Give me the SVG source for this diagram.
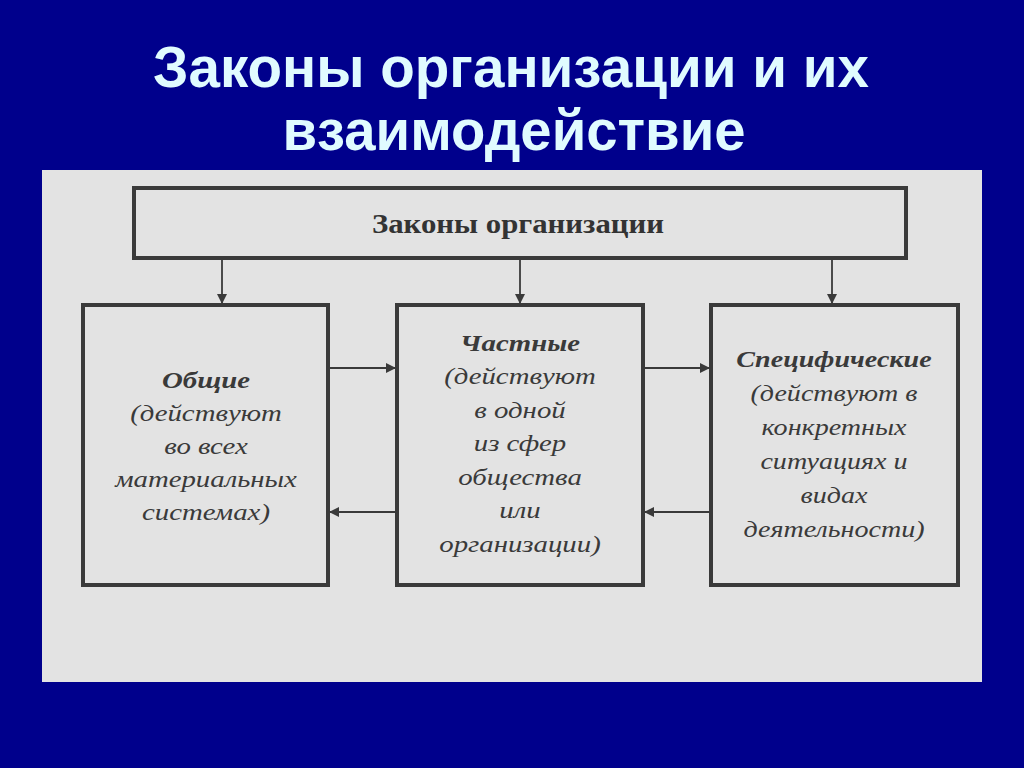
<svg xmlns="http://www.w3.org/2000/svg" width="1024" height="768" viewBox="0 0 1024 768">
<defs>
<style>
.title{font-family:"Liberation Sans",Arial,sans-serif;font-weight:bold;font-size:58px;fill:#e0fbff;text-anchor:middle}
.box{fill:none;stroke:#3a3a3a;stroke-width:4}
.lbl{font-family:"Liberation Serif","Times New Roman",serif;font-style:italic;font-size:24px;fill:#3a3a3a;text-anchor:middle}
.hd{font-weight:bold}
.top{font-family:"Liberation Serif","Times New Roman",serif;font-weight:bold;font-size:28px;fill:#333;text-anchor:middle}
.con{stroke:#3a3a3a;stroke-width:1.8;fill:none}
</style>
<marker id="ah" viewBox="0 0 10 10" refX="9" refY="5" markerWidth="10" markerHeight="10" markerUnits="userSpaceOnUse" orient="auto">
<path d="M0,0 L10,5 L0,10 Z" fill="#3a3a3a"/>
</marker>
</defs>
<rect width="1024" height="768" fill="#00008c"/>
<text class="title" x="511" y="87" textLength="716" lengthAdjust="spacingAndGlyphs">Законы организации и их</text>
<text class="title" x="514" y="150" textLength="463" lengthAdjust="spacingAndGlyphs">взаимодействие</text>
<rect x="42" y="170" width="940" height="512" fill="#e3e3e3"/>
<g id="top">
<rect class="box" x="134" y="188" width="772" height="70"/>
<text class="top" x="518" y="233" textLength="292" lengthAdjust="spacingAndGlyphs">Законы организации</text>
</g>
<g id="general">
<rect class="box" x="83" y="305" width="245" height="280"/>
<text class="lbl" transform="translate(206,0) scale(1.2,1)" x="0" y="388"><tspan class="hd">Общие</tspan><tspan x="0" dy="33">(действуют</tspan><tspan x="0" dy="33">во всех</tspan><tspan x="0" dy="33">материальных</tspan><tspan x="0" dy="33">системах)</tspan></text>
</g>
<g id="partial">
<rect class="box" x="397" y="305" width="246" height="280"/>
<text class="lbl" transform="translate(520,0) scale(1.2,1)" x="0" y="351"><tspan class="hd">Частные</tspan><tspan x="0" dy="33.5">(действуют</tspan><tspan x="0" dy="33.5">в одной</tspan><tspan x="0" dy="33.5">из сфер</tspan><tspan x="0" dy="33.5">общества</tspan><tspan x="0" dy="33.5">или</tspan><tspan x="0" dy="33.5">организации)</tspan></text>
</g>
<g id="specific">
<rect class="box" x="711" y="305" width="247" height="280"/>
<text class="lbl" transform="translate(834,0) scale(1.17,1)" x="0" y="367"><tspan class="hd">Специфические</tspan><tspan x="0" dy="34">(действуют в</tspan><tspan x="0" dy="34">конкретных</tspan><tspan x="0" dy="34">ситуациях и</tspan><tspan x="0" dy="34">видах</tspan><tspan x="0" dy="34">деятельности)</tspan></text>
</g>
<g id="connectors">
<line class="con" x1="222" y1="260" x2="222" y2="303" marker-end="url(#ah)"/>
<line class="con" x1="520" y1="260" x2="520" y2="303" marker-end="url(#ah)"/>
<line class="con" x1="832" y1="260" x2="832" y2="303" marker-end="url(#ah)"/>
<line class="con" x1="330" y1="368" x2="395" y2="368" marker-end="url(#ah)"/>
<line class="con" x1="645" y1="368" x2="709" y2="368" marker-end="url(#ah)"/>
<line class="con" x1="395" y1="512" x2="330" y2="512" marker-end="url(#ah)"/>
<line class="con" x1="709" y1="512" x2="645" y2="512" marker-end="url(#ah)"/>
</g>
</svg>
